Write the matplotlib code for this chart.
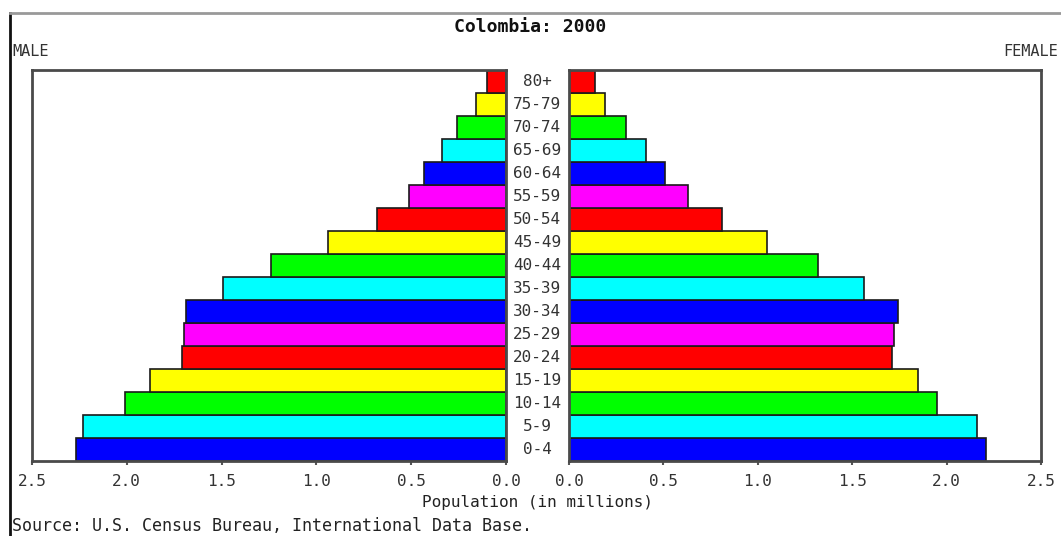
import matplotlib
matplotlib.use('Agg')
import matplotlib.pyplot as plt
from matplotlib.lines import Line2D
from matplotlib.ticker import FormatStrFormatter

# age groups, bottom to top
ages = ['0-4', '5-9', '10-14', '15-19', '20-24', '25-29', '30-34', '35-39',
        '40-44', '45-49', '50-54', '55-59', '60-64', '65-69', '70-74', '75-79', '80+']
male = [2.27, 2.23, 2.01, 1.88, 1.71, 1.70, 1.69, 1.49, 1.24, 0.94, 0.68,
        0.51, 0.43, 0.34, 0.26, 0.16, 0.10]
female = [2.21, 2.16, 1.95, 1.85, 1.71, 1.72, 1.74, 1.56, 1.32, 1.05, 0.81,
          0.63, 0.51, 0.41, 0.30, 0.19, 0.14]
palette = ['#0000ff', '#00ffff', '#00ff00', '#ffff00', '#ff0000', '#ff00ff']
colors = [palette[i % 6] for i in range(len(ages))]
ticks = [0.0, 0.5, 1.0, 1.5, 2.0, 2.5]

W, H = 1061, 536
fig = plt.figure(figsize=(W / 100, H / 100), dpi=100)
font = 'DejaVu Sans Mono'

def fx(px):
	return px / W

def fy(py):
	return 1 - py / H

axL = fig.add_axes([fx(32), fy(461), fx(506) - fx(32), fy(70) - fy(461)])
axR = fig.add_axes([fx(569), fy(461), fx(1041) - fx(569), fy(70) - fy(461)])

y = list(range(len(ages)))
axL.barh(y, male, height=1.0, color=colors, edgecolor='#1a1a1a', linewidth=1.2)
axR.barh(y, female, height=1.0, color=colors, edgecolor='#1a1a1a', linewidth=1.2)

for ax in (axL, axR):
	ax.set_ylim(-0.5, len(ages) - 0.5)
	ax.set_yticks([])
	ax.set_xticks(ticks)
	ax.xaxis.set_major_formatter(FormatStrFormatter('%.1f'))
	ax.tick_params(axis='x', direction='out', length=3, width=1.5, color='#555555',
	               labelsize=11.5, labelcolor='#333333', pad=6)
	for lab in ax.get_xticklabels():
		lab.set_family(font)
	for s in ax.spines.values():
		s.set_color('#4a4a4a')
		s.set_linewidth(2)
axL.set_xlim(2.5, 0)
axR.set_xlim(0, 2.5)

# age labels in the gap
for i, a in enumerate(ages):
	yy = 70 + (len(ages) - 0.5 - i) * (391 / len(ages))
	fig.text(fx(537), fy(yy), a, ha='center', va='center', fontsize=11.5,
	         family=font, color='#333333')

fig.text(fx(530), fy(27), 'Colombia: 2000', ha='center', va='center',
         fontsize=13, fontweight='bold', family=font, color='#111111')
fig.text(fx(12), fy(52), 'MALE', ha='left', va='center', fontsize=11,
         family=font, color='#333333')
fig.text(fx(1058), fy(52), 'FEMALE', ha='right', va='center', fontsize=11,
         family=font, color='#333333')
fig.text(fx(537), fy(503), 'Population (in millions)', ha='center', va='center',
         fontsize=11.5, family=font, color='#222222')
fig.text(fx(12), fy(526), 'Source: U.S. Census Bureau, International Data Base.',
         ha='left', va='center', fontsize=12, family=font, color='#222222')

# page border lines
fig.add_artist(Line2D([fx(10), fx(10)], [fy(13), 0], color='#111111', lw=2))
fig.add_artist(Line2D([fx(10), 1], [fy(13), fy(13)], color='#999999', lw=2))

fig.savefig('out.png', dpi=100)
